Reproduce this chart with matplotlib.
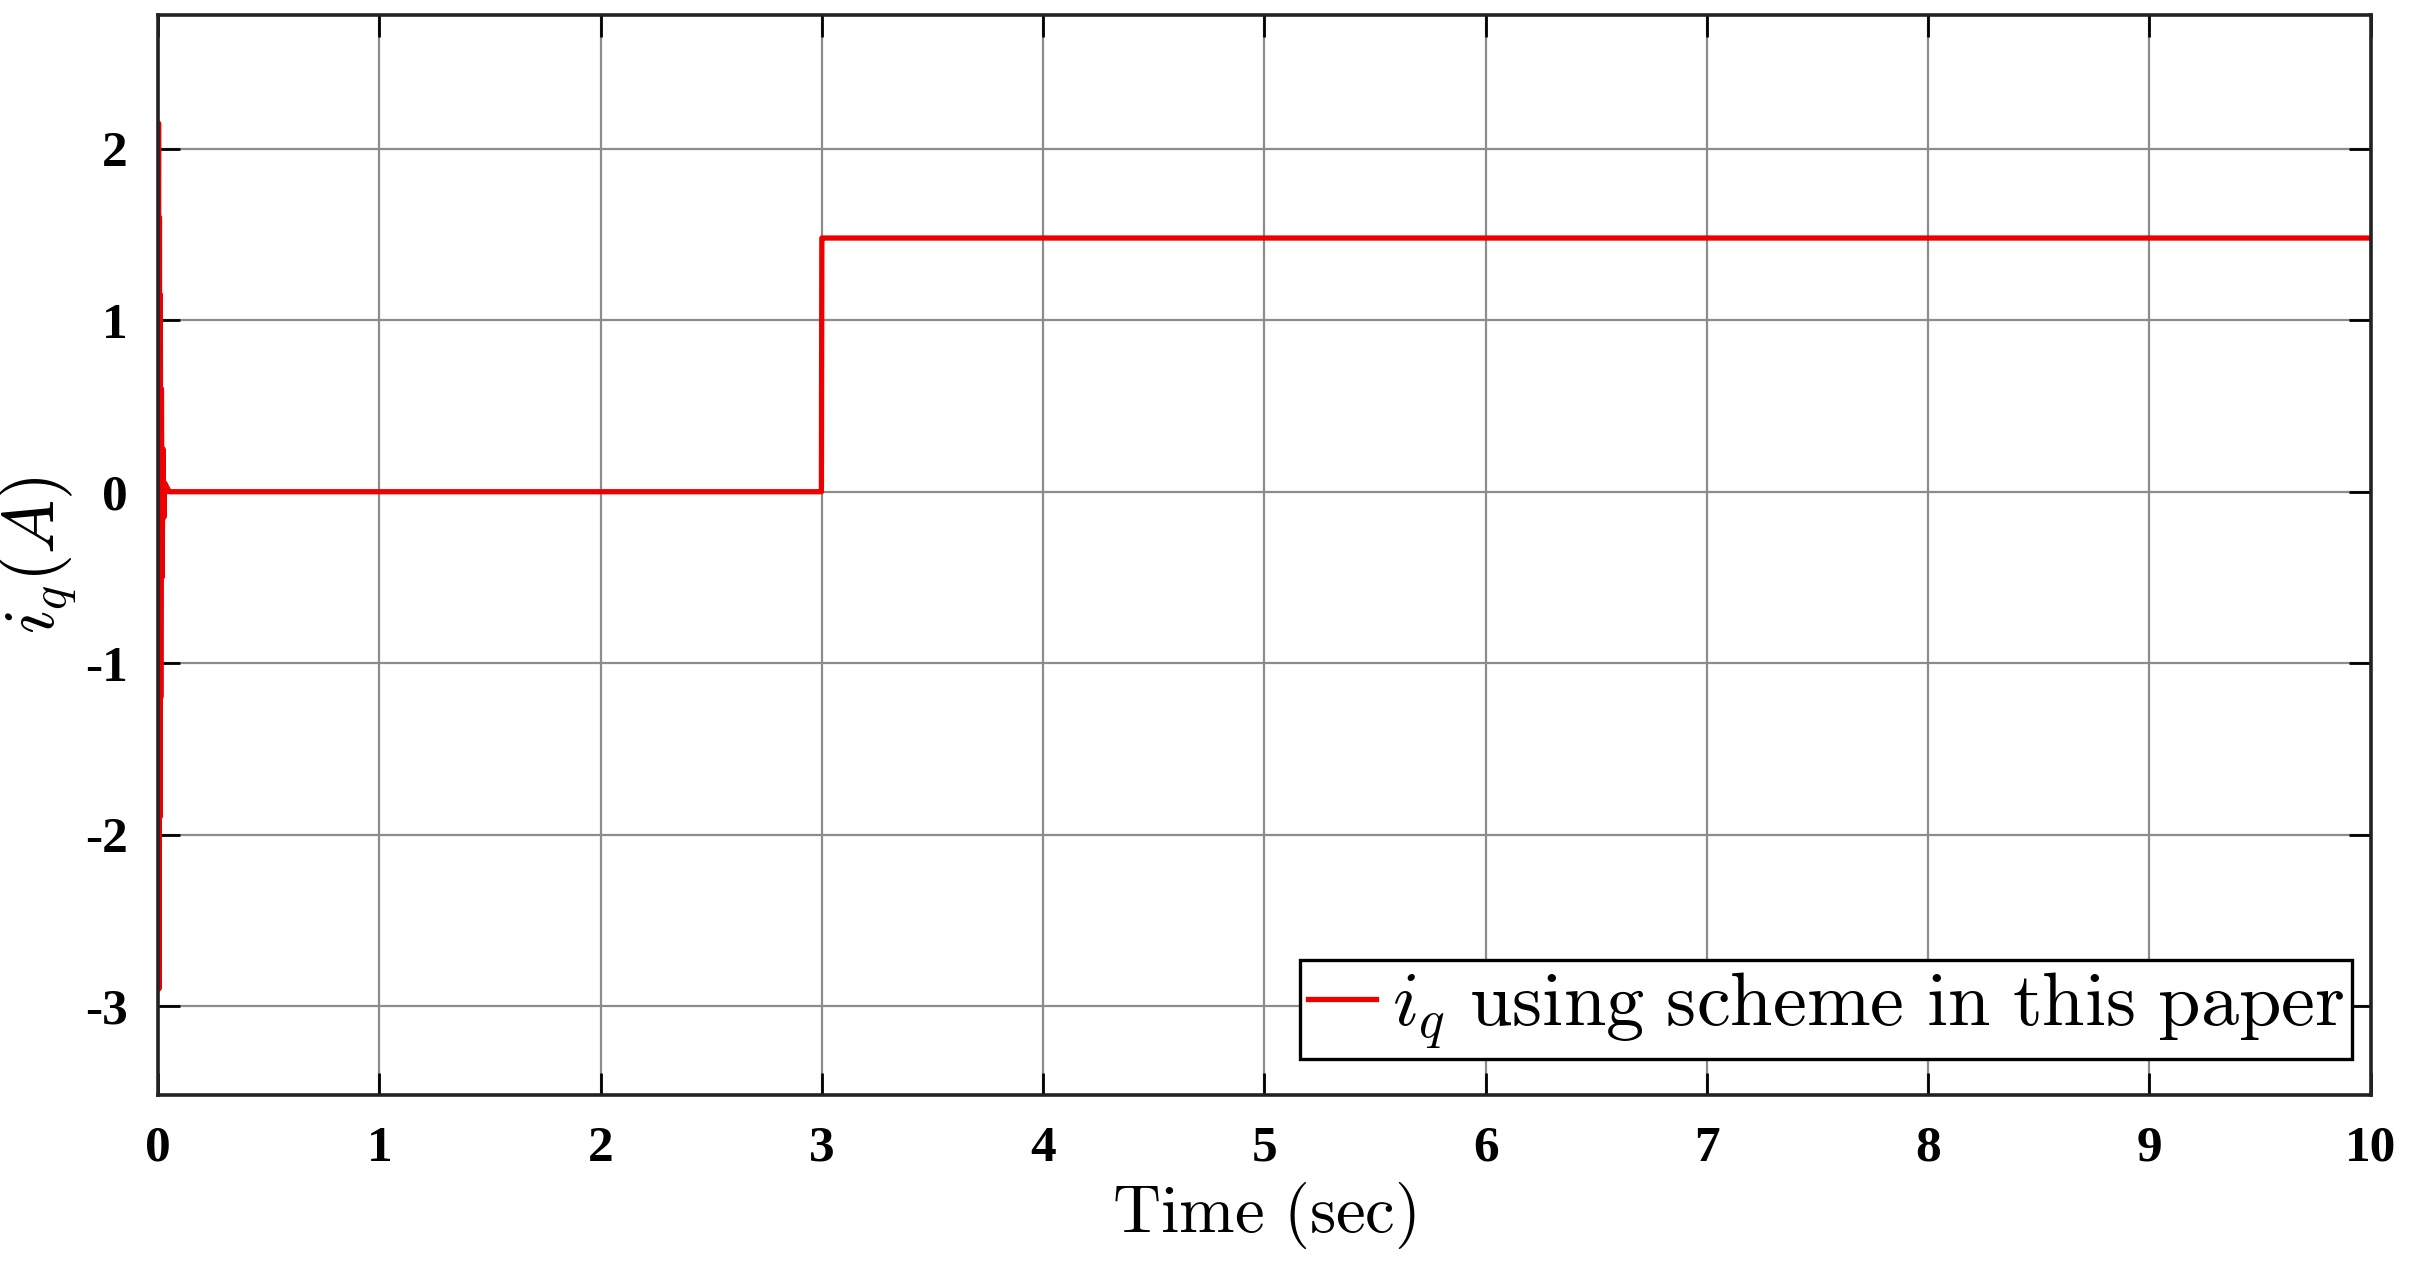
import matplotlib.pyplot as plt

plt.rcParams['mathtext.fontset'] = 'cm'

# i_q response (time in sec, current in A)
time = [0, 0.002, 0.004, 0.006, 0.008, 0.010, 0.012, 0.015, 0.018, 0.022,
        0.026, 0.030, 0.050, 2.998, 3.0, 3.002, 10.0]
iq = [0, 2.15, -2.9, 1.6, -1.9, 1.15, -1.2, 0.6, -0.5, 0.25,
      -0.15, 0.05, 0.0, 0.0, 1.48, 1.48, 1.48]

xticks = list(range(0, 11))
yticks = [-3, -2, -1, 0, 1, 2]

fig = plt.figure(figsize=(12.07, 6.33), dpi=200)
ax = fig.add_axes([0.0655, 0.135, 0.9165, 0.853])

ax.plot(time, iq, color='#ee0000', linewidth=1.9,
        label=r'$i_q\ \mathrm{using\ scheme\ in\ this\ paper}$')

ax.set_xlim(0, 10)
ax.set_ylim(-3.52, 2.78)
ax.set_xticks(xticks)
ax.set_yticks(yticks)
ax.set_xticklabels([str(v) for v in xticks], fontfamily='Liberation Serif',
                   fontweight='bold', fontsize=18.5)
ax.set_yticklabels([str(v) for v in yticks], fontfamily='Liberation Serif',
                   fontweight='bold', fontsize=18.5)
ax.tick_params(direction='in', length=8, width=1, top=True, right=True, pad=11)

ax.grid(True, color='#8c8c8c', linewidth=0.8)
for s in ax.spines.values():
    s.set_linewidth(1.3)
    s.set_color('#222222')

ax.set_xlabel(r'$\mathrm{Time\ (sec)}$', fontsize=24, labelpad=3)
ax.set_ylabel(r'$i_q(A)$', fontsize=26, labelpad=2)

leg = ax.legend(loc='lower right', bbox_to_anchor=(0.9916, 0.033), fontsize=27.5,
                fancybox=False, framealpha=1, edgecolor='black',
                handlelength=0.9, handletextpad=0.2, borderpad=0.1,
                borderaxespad=0)
leg.get_frame().set_linewidth(1.2)

plt.savefig('out.png', dpi=200)
